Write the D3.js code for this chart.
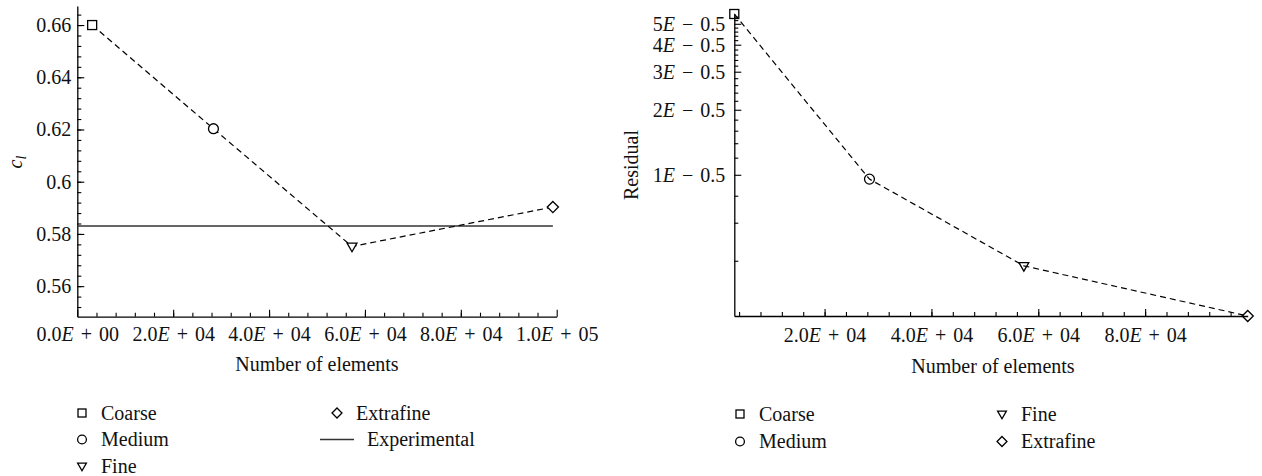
<!DOCTYPE html>
<html>
<head>
<meta charset="utf-8">
<script src="https://cdn.jsdelivr.net/npm/d3@7"></script>
<style>
  html, body { margin: 0; padding: 0; background: #fff; }
  svg { display: block; }
  svg text { font-family: "Liberation Serif", "DejaVu Serif", "Times New Roman", serif !important; }
</style>
</head>
<body>
<svg id="fig" width="1262" height="476"></svg>
<script>
// Mesh refinement study: lift coefficient and residual vs. number of elements
const meshes = ["Coarse", "Medium", "Fine", "Extrafine"];
const elementCounts = [3100, 28400, 57300, 99200];
const liftCoefficient = [0.660, 0.6203, 0.5752, 0.5903];
const residualValues = [5.55e-5, 0.955e-5, 0.379e-5, 0.222e-5];
const experimentalCl = 0.583;

const clTicks = [0.56, 0.58, 0.60, 0.62, 0.64, 0.66];
const clTickLabels = ["0.56", "0.58", "0.6", "0.62", "0.64", "0.66"];
const elementTicksLeft = [0, 20000, 40000, 60000, 80000, 100000];
const elementTickLabelsLeft = ["0.0E + 00", "2.0E + 04", "4.0E + 04", "6.0E + 04", "8.0E + 04", "1.0E + 05"];
const elementTicksRight = [20000, 40000, 60000, 80000];
const elementTickLabelsRight = ["2.0E + 04", "4.0E + 04", "6.0E + 04", "8.0E + 04"];
const residualTicks = [1e-5, 2e-5, 3e-5, 4e-5, 5e-5];
const residualTickLabels = ["1E − 0.5", "2E − 0.5", "3E − 0.5", "4E − 0.5", "5E − 0.5"];
const residualMinorMantissas = [0.4, 0.6, 0.8, 1.2, 1.4, 1.6, 1.8, 2.2, 2.4, 2.6, 2.8,
  3.2, 3.4, 3.6, 3.8, 4.2, 4.4, 4.6, 4.8, 5.2, 5.4];

const legendLeft = [
  { label: "Coarse", kind: "square" }, { label: "Medium", kind: "circle" },
  { label: "Fine", kind: "triangle" }, { label: "Extrafine", kind: "diamond" },
  { label: "Experimental", kind: "line" }
];
const legendRight = [
  { label: "Coarse", kind: "square" }, { label: "Medium", kind: "circle" },
  { label: "Fine", kind: "triangle" }, { label: "Extrafine", kind: "diamond" }
];

const markerKinds = ["square", "circle", "triangle", "diamond"];
const svg = d3.select("#fig");
const TICK_FONT = 20, LABEL_FONT = 20;

// Split "2.0E + 04" into mantissa, italic E and exponent part
function sciText(textSel, str) {
  const i = str.indexOf("E");
  textSel.text(null);
  textSel.append("tspan").text(str.slice(0, i));
  textSel.append("tspan").attr("font-style", "italic").text("E");
  textSel.append("tspan").text(str.slice(i + 1));
}

function drawMarker(g, kind, x, y, s, fill) {
  const sw = 1.3;
  if (kind === "square") {
    g.append("rect").attr("x", x - s / 2).attr("y", y - s / 2).attr("width", s).attr("height", s)
      .attr("fill", fill).attr("stroke", "#000").attr("stroke-width", sw);
  } else if (kind === "circle") {
    g.append("circle").attr("cx", x).attr("cy", y).attr("r", s * 0.55)
      .attr("fill", fill).attr("stroke", "#000").attr("stroke-width", sw);
  } else if (kind === "triangle") {
    const h = s * 0.95, w = s * 1.1;
    g.append("path").attr("d", `M${x - w / 2},${y - h / 2.6}L${x + w / 2},${y - h / 2.6}L${x},${y + h * 0.62}Z`)
      .attr("fill", fill).attr("stroke", "#000").attr("stroke-width", sw);
  } else if (kind === "diamond") {
    const r = s * 0.62;
    g.append("path").attr("d", `M${x},${y - r}L${x + r},${y}L${x},${y + r}L${x - r},${y}Z`)
      .attr("fill", fill).attr("stroke", "#000").attr("stroke-width", sw);
  } else if (kind === "line") {
    g.append("line").attr("x1", x - 17).attr("x2", x + 17).attr("y1", y).attr("y2", y)
      .attr("stroke", "#333").attr("stroke-width", 1.5);
  }
}

function styleAxis(g) {
  g.select(".domain").attr("stroke", "#000").attr("stroke-width", 1.3);
  g.selectAll(".tick line").attr("stroke", "#000").attr("stroke-width", 1.1);
  g.selectAll(".tick text").attr("fill", "#111").attr("font-size", TICK_FONT);
}

function drawLegend(g, items, cols, x0, colX, y0, dy, markerSize) {
  items.forEach((d, i) => {
    const col = i < cols[0] ? 0 : 1;
    const row = col === 0 ? i : i - cols[0];
    const mx = col === 0 ? x0 : colX;
    const y = y0 + row * dy;
    drawMarker(g, d.kind, mx, y, markerSize, "none");
    g.append("text").attr("x", mx + (d.kind === "line" ? 30 : 19)).attr("y", y).attr("dy", "0.33em")
      .attr("font-size", LABEL_FONT).attr("fill", "#111").text(d.label);
  });
}

// ---------- Left panel: lift coefficient ----------
{
  const g = svg.append("g");
  const x = d3.scaleLinear().domain([0, 100000]).range([77.3, 556.7]);
  const y = d3.scaleLinear().domain([0.5483, 0.6673]).range([316.7, 6]);

  // minor ticks
  g.append("g").attr("transform", `translate(0,${y.range()[0]})`)
    .call(d3.axisBottom(x).tickValues(d3.range(4000, 100000, 4000)).tickSize(-4).tickFormat(""))
    .call(a => a.select(".domain").remove()).call(styleAxis);
  g.append("g").attr("transform", `translate(${x.range()[0]},0)`)
    .call(d3.axisLeft(y).tickValues(d3.range(0.552, 0.667, 0.004)).tickSize(-4).tickFormat(""))
    .call(a => a.select(".domain").remove()).call(styleAxis);

  // major axes
  const xa = g.append("g").attr("transform", `translate(0,${y.range()[0]})`)
    .call(d3.axisBottom(x).tickValues(elementTicksLeft).tickSizeInner(-7).tickSizeOuter(0).tickPadding(5))
    .call(styleAxis);
  xa.selectAll(".tick text").each(function (d, i) { sciText(d3.select(this), elementTickLabelsLeft[i]); })
    .attr("dy", "0.95em").attr("word-spacing", 2);
  g.append("g").attr("transform", `translate(${x.range()[0]},0)`)
    .call(d3.axisLeft(y).tickValues(clTicks).tickSizeInner(-7).tickSizeOuter(0).tickPadding(6)
      .tickFormat((d, i) => clTickLabels[i]))
    .call(styleAxis);

  // experimental reference
  g.append("line").attr("x1", x(0)).attr("x2", x(elementCounts[3]))
    .attr("y1", y(experimentalCl)).attr("y2", y(experimentalCl))
    .attr("stroke", "#333").attr("stroke-width", 1.5);

  // CFD results
  const pts = elementCounts.map((n, i) => [x(n), y(liftCoefficient[i])]);
  g.append("path").attr("d", d3.line()(pts)).attr("fill", "none")
    .attr("stroke", "#000").attr("stroke-width", 1.2).attr("stroke-dasharray", "6,4");
  pts.forEach((p, i) => drawMarker(g, markerKinds[i], p[0], p[1], 9, "#fff"));

  // axis titles
  g.append("text").attr("x", 317).attr("y", 371).attr("text-anchor", "middle")
    .attr("font-size", LABEL_FONT).attr("fill", "#111").text("Number of elements");
  const yl = g.append("text").attr("transform", "translate(22,162) rotate(-90)")
    .attr("text-anchor", "middle").attr("font-size", LABEL_FONT).attr("fill", "#111");
  yl.append("tspan").attr("font-style", "italic").text("c");
  yl.append("tspan").attr("font-style", "italic").attr("font-size", 14).attr("dy", 4).text("l");

  drawLegend(g, legendLeft, [3, 2], 82, 337, 413, 26.5, 8);
}

// ---------- Right panel: residual ----------
{
  const g = svg.append("g");
  const x = d3.scaleLinear().domain(d3.extent(elementCounts)).range([734.3, 1247.7]);
  const y = d3.scaleLog().domain([residualValues[3], residualValues[0]]).range([316, 14]);

  g.append("g").attr("transform", `translate(0,${y.range()[0]})`)
    .call(d3.axisBottom(x).tickValues(d3.range(4000, 99000, 4000)).tickSize(-4).tickFormat(""))
    .call(a => a.select(".domain").remove()).call(styleAxis);
  g.append("g").attr("transform", `translate(${x.range()[0]},0)`)
    .call(d3.axisLeft(y).tickValues(residualMinorMantissas.map(m => m * 1e-5)).tickSize(-4).tickFormat(""))
    .call(a => a.select(".domain").remove()).call(styleAxis);

  const xa = g.append("g").attr("transform", `translate(0,${y.range()[0]})`)
    .call(d3.axisBottom(x).tickValues(elementTicksRight).tickSizeInner(-7).tickSizeOuter(0).tickPadding(7))
    .call(styleAxis);
  xa.selectAll(".tick text").each(function (d, i) { sciText(d3.select(this), elementTickLabelsRight[i]); })
    .attr("dy", "0.95em").attr("word-spacing", 2);
  const ya = g.append("g").attr("transform", `translate(${x.range()[0]},0)`)
    .call(d3.axisLeft(y).tickValues(residualTicks).tickSizeInner(-7).tickSizeOuter(0).tickPadding(9))
    .call(styleAxis);
  ya.selectAll(".tick text").each(function (d, i) { sciText(d3.select(this), residualTickLabels[i]); })
    .attr("word-spacing", 2);

  const pts = elementCounts.map((n, i) => [x(n), y(residualValues[i])]);
  g.append("path").attr("d", d3.line()(pts)).attr("fill", "none")
    .attr("stroke", "#000").attr("stroke-width", 1.2).attr("stroke-dasharray", "6,4");
  pts.forEach((p, i) => drawMarker(g, markerKinds[i], p[0], p[1], 9, "none"));

  g.append("text").attr("x", 993).attr("y", 373).attr("text-anchor", "middle")
    .attr("font-size", LABEL_FONT).attr("fill", "#111").text("Number of elements");
  g.append("text").attr("transform", "translate(638,165) rotate(-90)")
    .attr("text-anchor", "middle").attr("font-size", LABEL_FONT).attr("fill", "#111").text("Residual");

  drawLegend(g, legendRight, [2, 2], 740, 1002, 414, 27.5, 8);
}
</script>
</body>
</html>
